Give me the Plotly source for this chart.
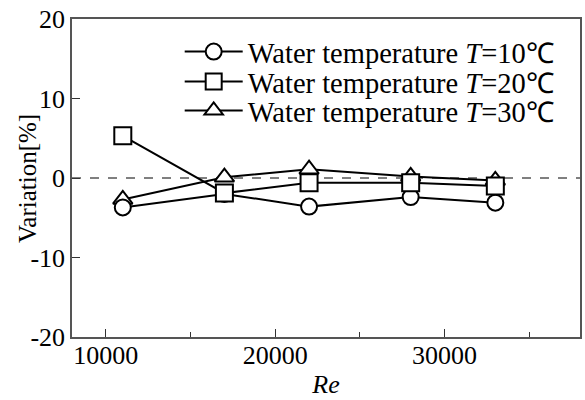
import plotly.graph_objects as go

re_vals = [11000, 17000, 22000, 28000, 33000]
var_10 = [-3.7, -2.0, -3.6, -2.4, -3.1]
var_20 = [5.3, -1.9, -0.6, -0.6, -1.0]
var_30 = [-2.7, 0.1, 1.1, 0.2, -0.3]

names = ["Water temperature <i>T</i>=10℃",
         "Water temperature <i>T</i>=20℃",
         "Water temperature <i>T</i>=30℃"]
FONT = "Liberation Serif"
LEG_FONT = 28.5

fig = go.Figure()
# draw order: triangle, circle, square; each in its own legend row
series = [
    (var_30, "triangle-up", names[2], "legend3", 17),
    (var_10, "circle", names[0], "legend", 16),
    (var_20, "square", names[1], "legend2", 17),
]
for ys, sym, nm, leg, sz in series:
    fig.add_trace(go.Scatter(
        x=re_vals, y=ys, mode="lines+markers", name=nm, legend=leg,
        line=dict(color="black", width=2),
        marker=dict(symbol=sym, size=sz, color="white",
                    line=dict(color="black", width=2)),
    ))

fig.add_hline(y=0, line=dict(color="black", width=1, dash="dash"), layer="below")

def leg(y):
    return dict(x=0.212, y=y, xanchor="left", yanchor="middle",
                bgcolor="rgba(0,0,0,0)", font=dict(size=LEG_FONT, family=FONT),
                itemwidth=58)

fig.update_layout(
    width=585, height=400,
    margin=dict(l=72, r=5, t=19, b=63, autoexpand=False),
    paper_bgcolor="white", plot_bgcolor="white",
    font=dict(family=FONT, size=26, color="black"),
    showlegend=True,
    legend=leg(0.896), legend2=leg(0.802), legend3=leg(0.711),
    xaxis=dict(range=[8000, 38000], tickvals=[10000, 20000, 30000],
               ticktext=["10000", "20000", "30000"], automargin=False,
               ticks="inside", ticklen=8, tickcolor="#333", showgrid=False,
               zeroline=False, showline=True, linecolor="#555", linewidth=1.5,
               mirror=True, ticklabelstandoff=-6,
               minor=dict(tickvals=[15000, 25000, 35000], ticks="inside",
                          ticklen=5, tickcolor="#333"),
               title=dict(text="<i>Re</i>", font=dict(size=26, family=FONT), standoff=6),
               tickfont=dict(size=26, family=FONT)),
    yaxis=dict(range=[-20, 20], tickvals=[-20, -10, 0, 10, 20],
               ticktext=["-20", "-10", "0", "10", "20"], automargin=False,
               ticks="inside", ticklen=8, tickcolor="#333", showgrid=False,
               zeroline=False, showline=True, linecolor="#555", linewidth=1.5,
               mirror=True,
               tickfont=dict(size=26, family=FONT)),
    annotations=[dict(text="Variation[%]", xref="paper", yref="paper",
                      x=-0.0886, y=0.5, xanchor="center", yanchor="middle",
                      textangle=-90, showarrow=False,
                      font=dict(size=25, family=FONT))],
)

fig.write_html("out.html")
